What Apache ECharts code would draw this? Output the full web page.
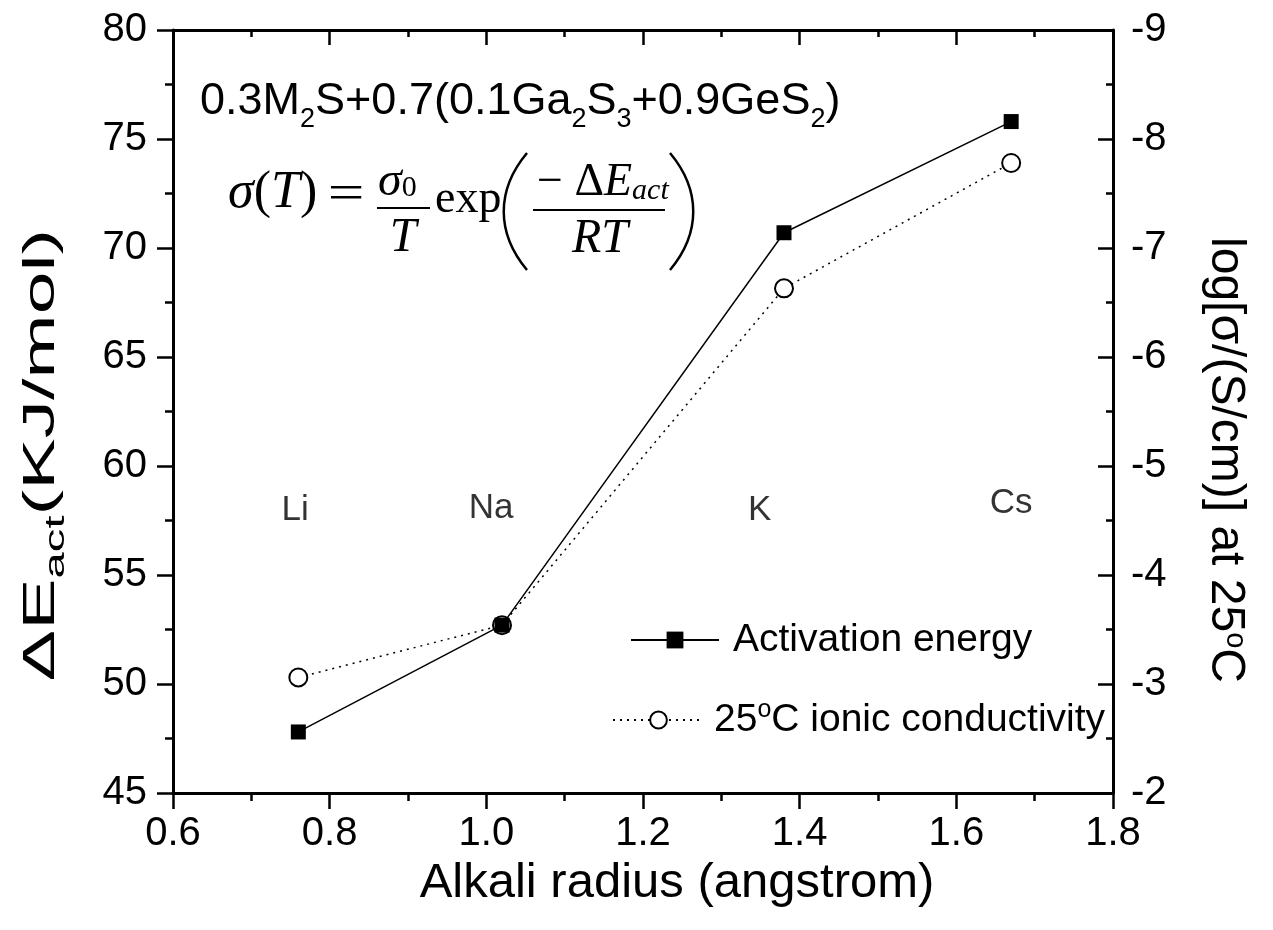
<!DOCTYPE html>
<html>
<head>
<meta charset="utf-8">
<script src="https://cdn.jsdelivr.net/npm/echarts@6/dist/echarts.min.js"></script>
<style>
  html, body { margin: 0; padding: 0; background: #fff; }
  #chart { width: 1273px; height: 930px; }
</style>
</head>
<body>
<div id="chart"></div>
<script>
// values
const radius = [0.76, 1.02, 1.38, 1.67];
const activationEnergy = [47.8, 52.7, 70.7, 75.8];
const conductivity = [-3.06, -3.54, -6.63, -7.78];
const ionNames = ['Li', 'Na', 'K', 'Cs'];
const ionLabelX = [0.756, 1.006, 1.349, 1.67];
const ionLabelY = [57.98, 58.07, 57.98, 58.3];

const sans = '"Liberation Sans", Arial, sans-serif';
const serif = '"Liberation Serif", "Times New Roman", serif';

const chart = echarts.init(document.getElementById('chart'));

const axisLine = { show: true, onZero: false, lineStyle: { color: '#000', width: 3 } };
const tickStyle = { color: '#000', width: 2.5 };
const labelStyle = { color: '#000', fontSize: 40, fontFamily: sans };

function txt(x, y, style, extra) {
  return Object.assign({
    type: 'text', x, y, silent: true,
    style: Object.assign({ fill: '#000', align: 'left', verticalAlign: 'middle' }, style)
  }, extra || {});
}

const italic = size => ({ fontStyle: 'italic', fontSize: size, fontFamily: serif });

const graphic = [
  // composition
  txt(200, 70, {
    text: '0.3M{s|2}S+0.7(0.1Ga{s|2}S{s|3}+0.9GeS{s|2})',
    fontSize: 45, fontFamily: sans, verticalAlign: 'top',
    rich: { s: { fontSize: 27, fontFamily: sans, padding: [36, 0, 0, 0] } }
  }),
  // sigma(T) = sigma0/T exp(-dE/RT)
  txt(228, 193, { text: '{i|σ}({i|T})', font: '52px ' + serif, rich: { i: italic(52) } }),
  txt(346, 196, { text: '=', font: '50px ' + serif, align: 'center' }, { scaleX: 1.3 }),
  txt(378, 182, {
    text: '{i|σ}{s|0}', font: '46px ' + serif,
    rich: { i: italic(48), s: { fontSize: 30, fontFamily: serif, padding: [12, 0, 0, 0] } }
  }),
  { type: 'line', silent: true, shape: { x1: 377, y1: 208, x2: 430, y2: 208 }, style: { stroke: '#000', lineWidth: 2 } },
  txt(403, 238, { text: 'T', font: 'italic 48px ' + serif, align: 'center' }),
  txt(435, 200, { text: 'exp', font: '46px ' + serif }),
  { type: 'bezierCurve', silent: true, shape: { x1: 527, y1: 153, cpx1: 496, cpy1: 190, cpx2: 496, cpy2: 233, x2: 527, y2: 270 }, style: { stroke: '#000', lineWidth: 2.5, fill: null } },
  { type: 'bezierCurve', silent: true, shape: { x1: 670, y1: 153, cpx1: 701, cpy1: 190, cpx2: 701, cpy2: 233, x2: 670, y2: 270 }, style: { stroke: '#000', lineWidth: 2.5, fill: null } },
  txt(537, 183, {
    text: '− Δ{i|E}{s|act}', font: '46px ' + serif,
    rich: { i: italic(46), s: { fontStyle: 'italic', fontSize: 30, fontFamily: serif, padding: [16, 0, 0, 0] } }
  }),
  { type: 'line', silent: true, shape: { x1: 533, y1: 210, x2: 665, y2: 210 }, style: { stroke: '#000', lineWidth: 2 } },
  txt(600, 239, { text: 'RT', font: 'italic 48px ' + serif, align: 'center' }),
  // axis titles
  txt(42, 455, {
    text: 'ΔE{s|act}(KJ/mol)', fontSize: 44, fontFamily: sans, align: 'center',
    rich: { s: { fontSize: 27, fontFamily: sans, padding: [30, 0, 0, 0] } }
  }, { rotation: Math.PI / 2, scaleX: 1.75 }),
  txt(1225, 460, {
    text: 'log[σ/(S/cm)] at 25{o|o}C', fontSize: 48, fontFamily: sans, align: 'center',
    rich: { o: { fontSize: 29, fontFamily: sans, lineHeight: 12, verticalAlign: 'top' } }
  }, { rotation: -Math.PI / 2 })
];

chart.setOption({
  backgroundColor: '#fff',
  animation: false,
  grid: { left: 173, right: 160, top: 30, bottom: 137, containLabel: false },
  xAxis: [
    {
      type: 'value', position: 'bottom', min: 0.6, max: 1.8, interval: 0.2,
      axisLine, splitLine: { show: false },
      axisTick: { show: true, inside: false, length: 16, lineStyle: tickStyle },
      minorTick: { show: true, splitNumber: 2, length: 8, lineStyle: tickStyle },
      axisLabel: Object.assign({ margin: 21, formatter: v => v.toFixed(1) }, labelStyle),
      name: 'Alkali radius (angstrom)', nameLocation: 'middle', nameGap: 57,
      nameTextStyle: { color: '#000', fontSize: 49, fontFamily: sans, padding: [0, 0, 0, 68] }
    },
    {
      type: 'value', position: 'top', min: 0.6, max: 1.8, interval: 0.2,
      axisLine, splitLine: { show: false },
      axisTick: { show: true, inside: true, length: 15, lineStyle: tickStyle },
      minorTick: { show: true, splitNumber: 2, length: 7, lineStyle: tickStyle },
      axisLabel: { show: false }
    }
  ],
  yAxis: [
    {
      type: 'value', position: 'left', min: 45, max: 80, interval: 5,
      axisLine, splitLine: { show: false },
      axisTick: { show: true, inside: false, length: 16, lineStyle: tickStyle },
      minorTick: { show: true, splitNumber: 2, length: 8, lineStyle: tickStyle },
      axisLabel: Object.assign({ margin: 26 }, labelStyle)
    },
    {
      type: 'value', position: 'right', inverse: true, min: -9, max: -2, interval: 1,
      axisLine, splitLine: { show: false },
      axisTick: { show: true, inside: true, length: 15, lineStyle: tickStyle },
      minorTick: { show: true, splitNumber: 2, length: 7, lineStyle: tickStyle },
      axisLabel: Object.assign({ margin: 18 }, labelStyle)
    }
  ],
  legend: [
    {
      data: ['Activation energy'], left: 625, top: 613, selectedMode: false,
      itemWidth: 88, itemHeight: 21,
      textStyle: { color: '#000', fontSize: 39, fontFamily: sans, lineHeight: 44, padding: [0, 0, 0, 9] }
    },
    {
      data: ['25°C ionic conductivity'], left: 607, top: 693, selectedMode: false,
      itemWidth: 91, itemHeight: 21,
      formatter: () => '25{o|o}C ionic conductivity',
      textStyle: {
        color: '#000', fontSize: 39, fontFamily: sans, lineHeight: 44, padding: [0, 0, 0, 5],
        rich: { o: { fontSize: 25, fontFamily: sans, lineHeight: 12, verticalAlign: 'top' } }
      }
    }
  ],
  series: [
    {
      name: 'Activation energy', type: 'line', xAxisIndex: 0, yAxisIndex: 0, z: 3,
      data: radius.map((x, i) => [x, activationEnergy[i]]),
      symbol: 'rect', symbolSize: 15,
      itemStyle: { color: '#000' },
      lineStyle: { color: '#000', width: 1.5 }
    },
    {
      name: '25°C ionic conductivity', type: 'line', xAxisIndex: 0, yAxisIndex: 1, z: 2,
      data: radius.map((x, i) => [x, conductivity[i]]),
      symbol: 'emptyCircle', symbolSize: 18,
      itemStyle: { color: '#000', borderWidth: 2 },
      lineStyle: { color: '#000', width: 1.5, type: [2, 5] }
    },
    {
      name: 'ions', type: 'scatter', xAxisIndex: 0, yAxisIndex: 0, silent: true,
      data: ionNames.map((n, i) => ({ name: n, value: [ionLabelX[i], ionLabelY[i]] })),
      symbolSize: 0,
      label: { show: true, position: 'inside', formatter: '{b}', color: '#000', fontSize: 35, fontFamily: sans }
    }
  ],
  graphic
});

window.addEventListener('resize', () => chart.resize());
</script>
</body>
</html>
